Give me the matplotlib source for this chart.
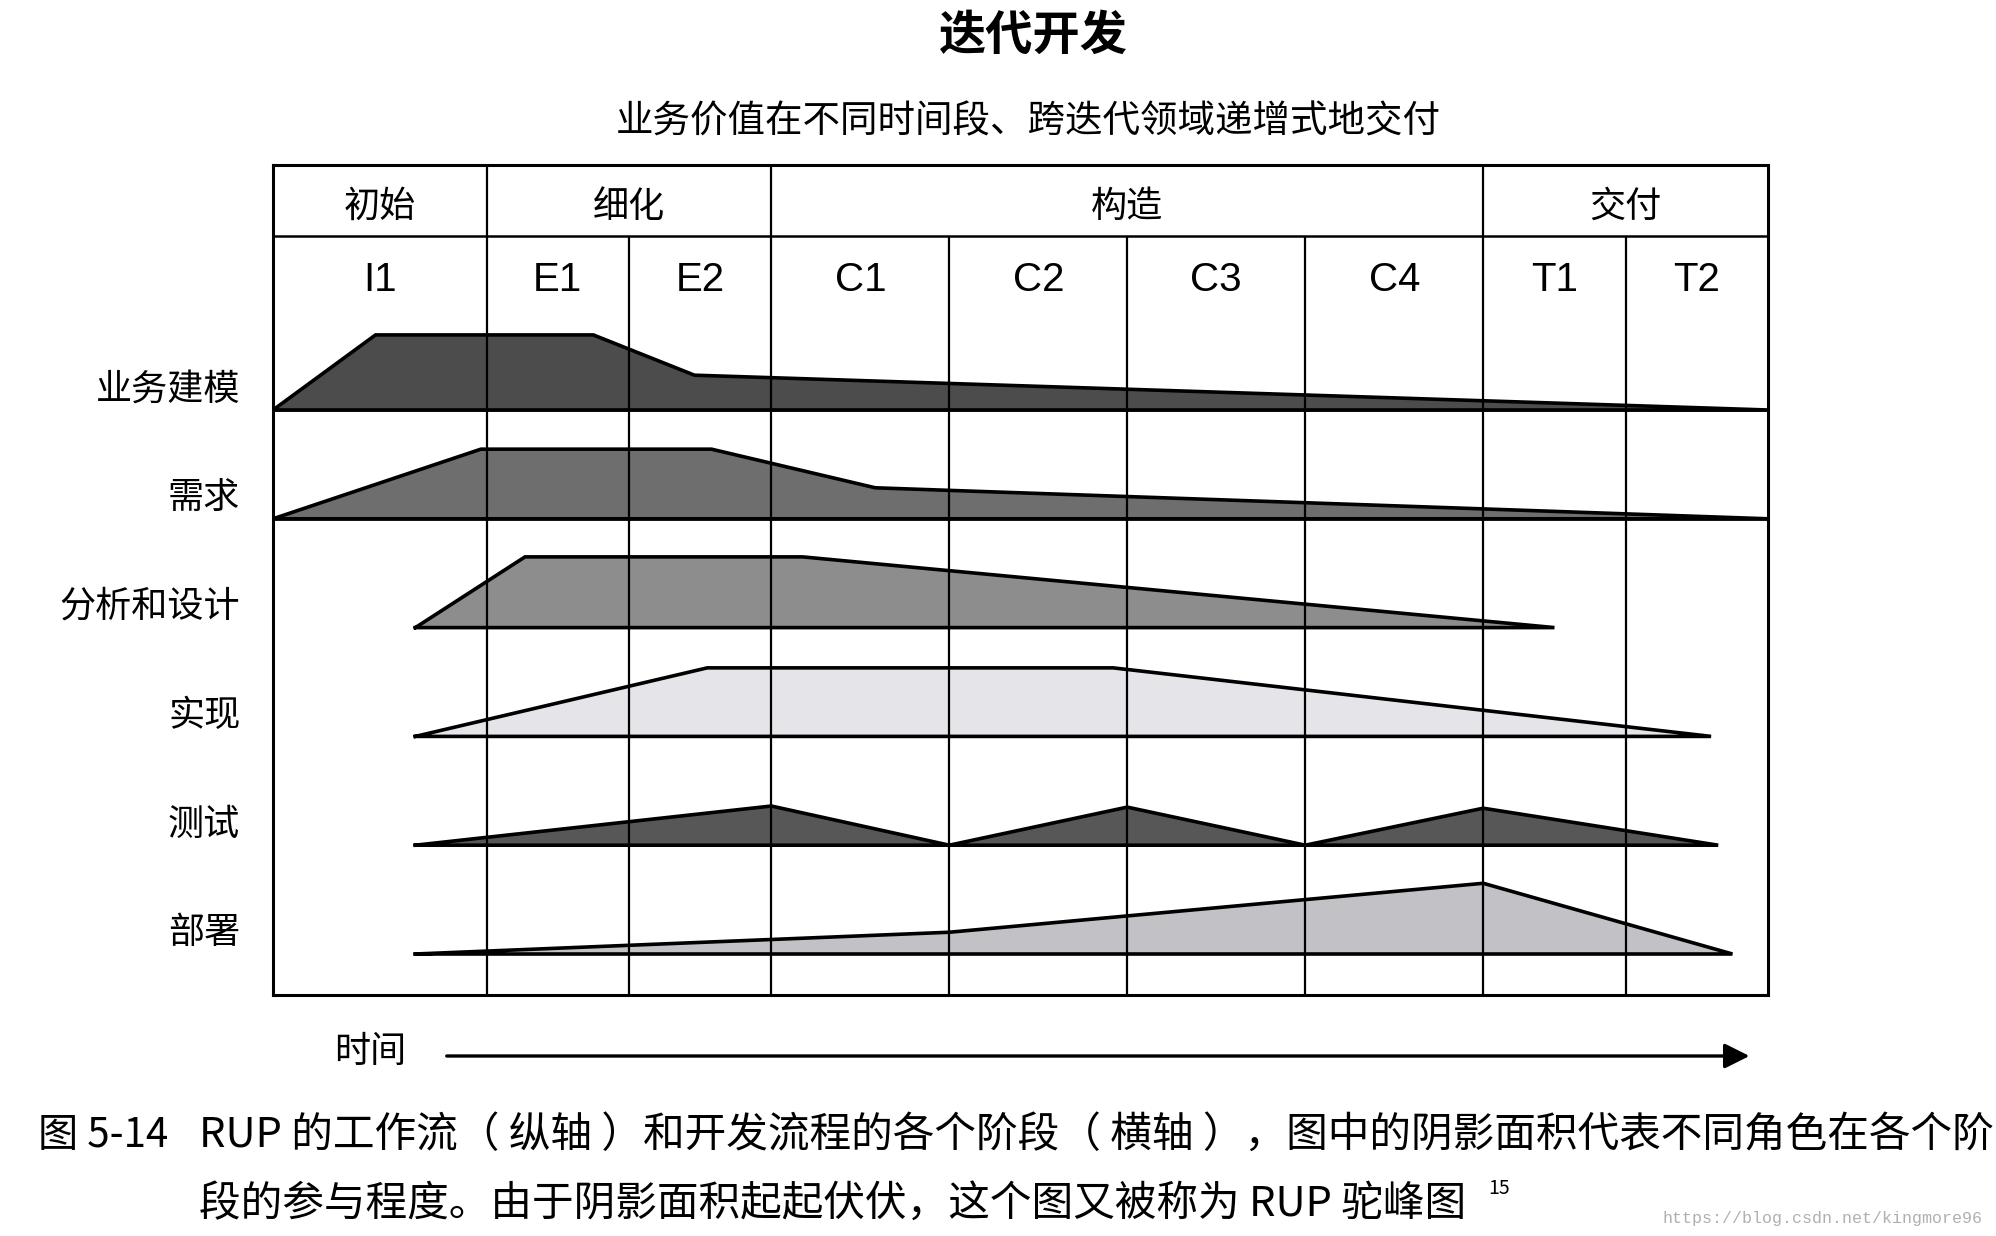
import numpy as np
import matplotlib
matplotlib.use('Agg')
import matplotlib.pyplot as plt

plt.rcParams['font.family'] = ['Noto Sans CJK SC', 'DejaVu Sans']

# phases / iterations of the RUP timeline
phases = ['初始', '细化', '构造', '交付']
phase_iters = [1, 2, 4, 2]
iterations = ['I1', 'E1', 'E2', 'C1', 'C2', 'C3', 'C4', 'T1', 'T2']
iter_len = [1.5, 1.0, 1.0, 1.25, 1.25, 1.25, 1.25, 1.0, 1.0]

workflows = ['业务建模', '需求', '分析和设计', '实现', '测试', '部署']

# hump profiles: time (in iteration units) and relative effort
biz_t = [0, 0.72, 2.25, 2.96, 10.5]
biz_h = [0, 0.69, 0.69, 0.32, 0]
req_t = [0, 1.46, 3.08, 4.23, 10.5]
req_h = [0, 0.64, 0.64, 0.285, 0]
ana_t = [1.0, 1.77, 3.72, 9.0]
ana_h = [0, 0.65, 0.65, 0]
imp_t = [1.0, 3.05, 5.9, 10.1]
imp_h = [0, 0.63, 0.63, 0]
test_t = [1.0, 3.5, 4.75, 6.0, 7.25, 8.5, 10.15]
test_h = [0, 0.36, 0, 0.35, 0, 0.34, 0]
dep_t = [1.0, 4.75, 8.5, 10.25]
dep_h = [0, 0.2, 0.65, 0]

profiles = [(biz_t, biz_h), (req_t, req_h), (ana_t, ana_h),
            (imp_t, imp_h), (test_t, test_h), (dep_t, dep_h)]
fills = ['#4c4c4c', '#6e6e6e', '#8d8d8d', '#e5e5e9', '#575757', '#c2c2c6']

title = '迭代开发'
subtitle = '业务价值在不同时间段、跨迭代领域递增式地交付'
caption_no = '图 5-14'
caption1 = 'RUP 的工作流（ 纵轴 ）和开发流程的各个阶段（ 横轴 ），图中的阴影面积代表不同角色在各个阶'
caption2 = '段的参与程度。由于阴影面积起起伏伏，这个图又被称为 RUP 驼峰图'

W, H = 1996, 1236
fig = plt.figure(figsize=(W / 100, H / 100), dpi=100)
fig.patch.set_facecolor('white')

# table area
ax = fig.add_axes([273 / W, 1 - 995 / H, (1768 - 273) / W, (995 - 165) / H])
bounds = np.concatenate([[0], np.cumsum(iter_len)])
total = bounds[-1]
row_px = 108.8
y_top = (410 - 165) / row_px
y_bot = -(995 - 410) / row_px
y_head = (410 - 236) / row_px
ax.set_xlim(0, total)
ax.set_ylim(y_bot, y_top)
ax.set_xticks([])
ax.set_yticks([])
for s in ax.spines.values():
    s.set_linewidth(2.2)

# grid lines
phase_bounds = bounds[np.cumsum(phase_iters)[:-1]]
for x in bounds[1:-1]:
    if x in phase_bounds:
        ax.axvline(x, color='black', lw=1.6, zorder=2)
    else:
        ax.vlines(x, y_bot, y_head, color='black', lw=1.6, zorder=2)
ax.axhline(y_head, color='black', lw=1.8, zorder=2)
ax.axhline(0, color='black', lw=1.8, zorder=2)
ax.axhline(-1, color='black', lw=1.8, zorder=2)

# header labels
pb = np.concatenate([[0], bounds[np.cumsum(phase_iters)]])
for i, name in enumerate(phases):
    ax.text((pb[i] + pb[i + 1]) / 2, (410 - 207) / row_px, name,
            ha='center', va='center', fontsize=26)
for i, name in enumerate(iterations):
    ax.text((bounds[i] + bounds[i + 1]) / 2, (410 - 280) / row_px, name,
            ha='center', va='center', fontsize=29,
            family=['Liberation Sans', 'DejaVu Sans'])

# humps
for k, ((t, h), c) in enumerate(zip(profiles, fills)):
    base = -k
    xs = list(t) + [t[0]]
    ys = [base + v for v in h] + [base]
    ax.fill(xs, ys, facecolor=c, edgecolor='none', zorder=1)
    ax.plot(xs, ys, color='black', lw=2.6, zorder=3, solid_joinstyle='miter')
    ax.text(-0.23, base + 0.19, workflows[k], ha='right', va='center',
            fontsize=26, clip_on=False)

# time arrow
y_arrow = (410 - 1056) / row_px
ax.annotate('', xy=(10.37, y_arrow), xytext=(1.22, y_arrow),
            xycoords='data', annotation_clip=False,
            arrowprops=dict(arrowstyle='-|>', lw=2.4, color='black',
                            mutation_scale=38, shrinkA=0, shrinkB=0))
ax.text(0.68, (410 - 1052) / row_px, '时间', ha='center', va='center',
        fontsize=26, clip_on=False)

# titles
fig.text(1033 / W, 1 - 36 / H, title, ha='center', va='center',
         fontsize=34, weight='bold')
fig.text(1028 / W, 1 - 122 / H, subtitle, ha='center', va='center',
         fontsize=27)

# caption
fig.text(38 / W, 1 - 1135 / H, caption_no, ha='left', va='center', fontsize=29)
fig.text(199 / W, 1 - 1135 / H, caption1, ha='left', va='center', fontsize=30)
c2 = fig.text(199 / W, 1 - 1204 / H, caption2, ha='left', va='center', fontsize=30)
fig.canvas.draw()
bb = c2.get_window_extent()
fig.text((bb.x1 + 22) / W, 1 - 1188 / H, '15', ha='left', va='center', fontsize=14)

fig.text(1983 / W, 1 - 1218 / H, 'https://blog.csdn.net/kingmore96', ha='right',
         va='center', fontsize=12, color='#b0b0b0',
         family=['Liberation Mono', 'DejaVu Sans Mono'])

fig.savefig('out.png', dpi=100, facecolor='white')
